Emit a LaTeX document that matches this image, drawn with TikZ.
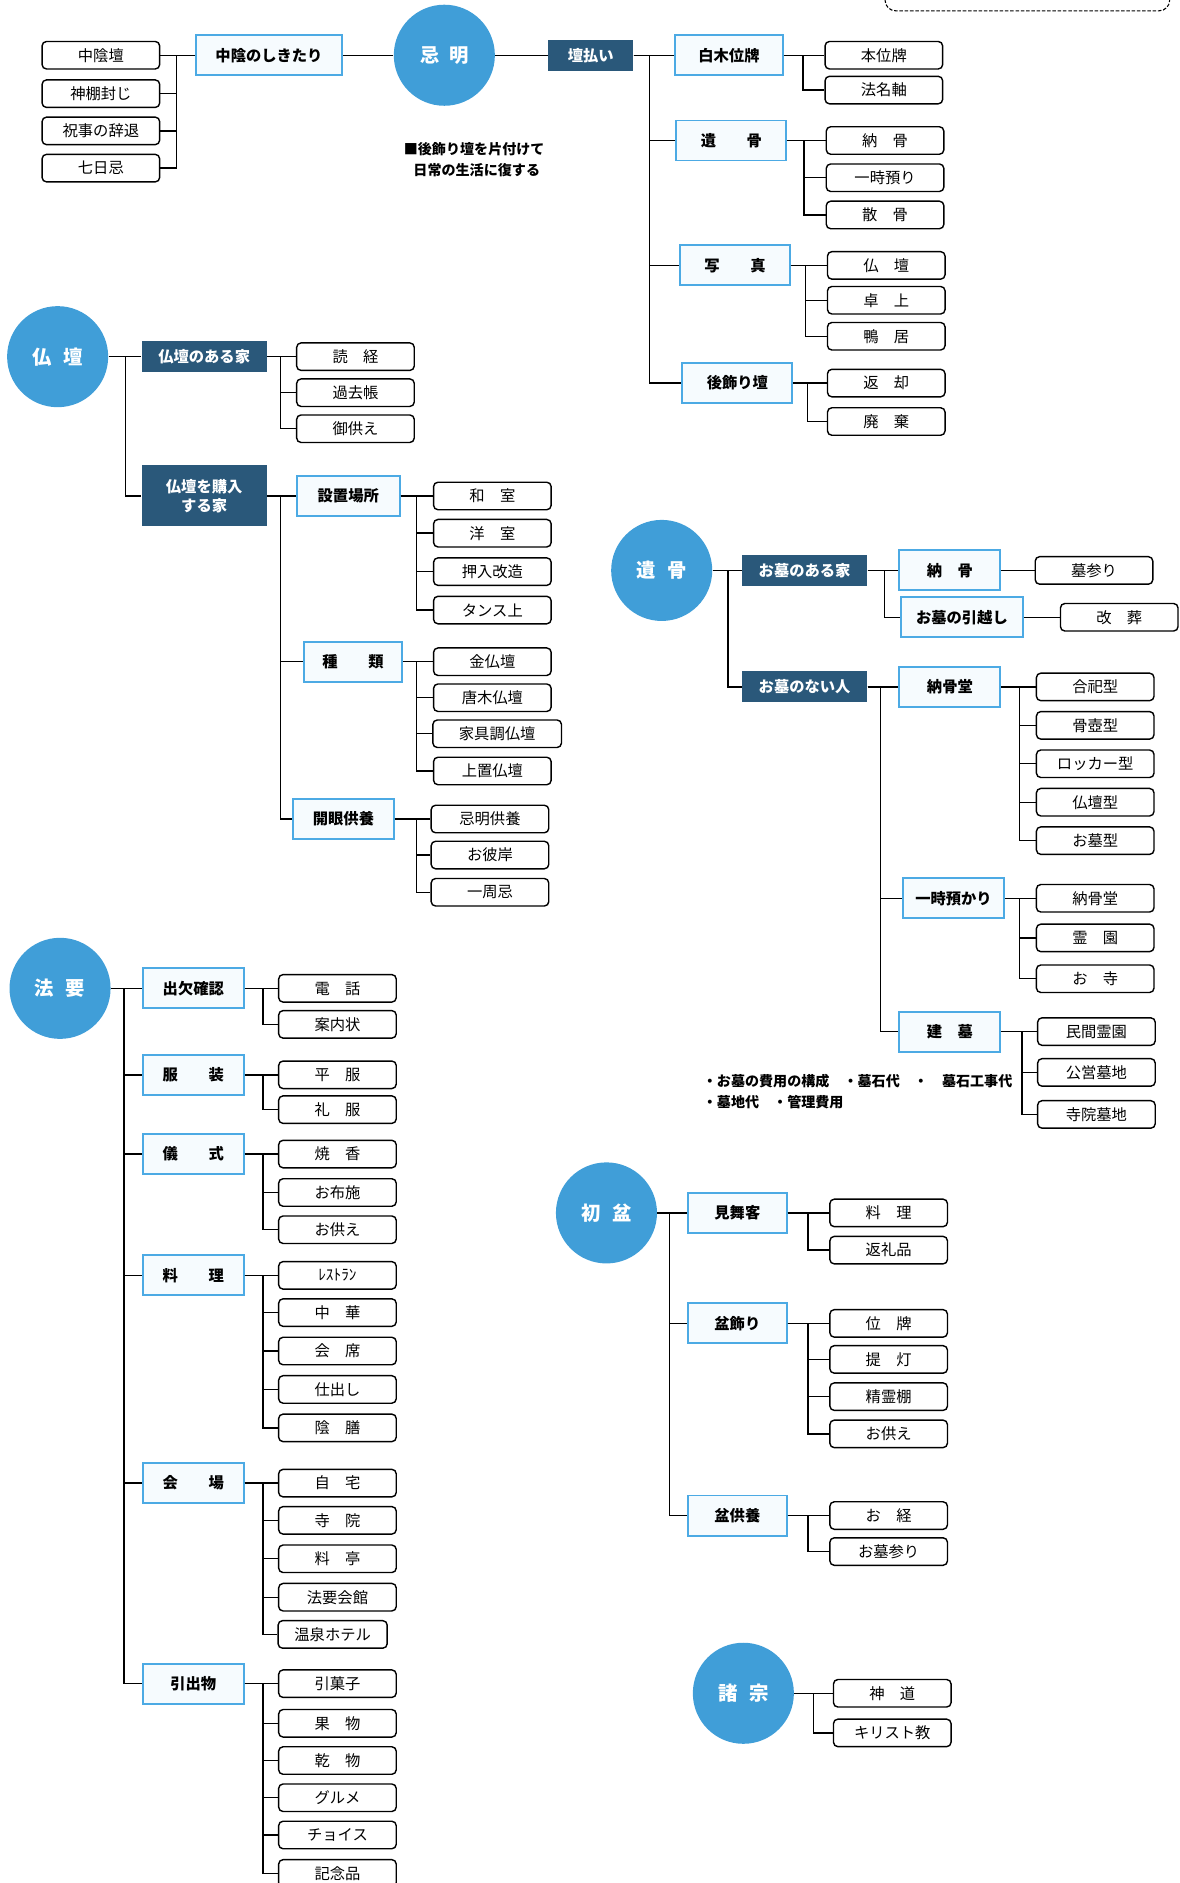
\documentclass[tikz,border=0pt]{standalone}
\usepackage{fontspec}
\usepackage{tikz}
\newfontfamily\jp{Noto Sans CJK JP}
\definecolor{maru}{RGB}{64,158,216}
\definecolor{kon}{RGB}{42,88,122}
\definecolor{waku}{RGB}{76,170,228}
\definecolor{usuao}{RGB}{246,251,254}
\tikzstyle{circ} = [circle, fill=maru, minimum size=2.02cm, inner sep=0pt, text=white,
font=\jp\bfseries\fontsize{11}{13}\selectfont]
\tikzstyle{darkboxes} = [rectangle, fill=kon, minimum width=2.5cm, minimum height=0.62cm, inner
sep=0pt, text=white, align=center, font=\jp\bfseries\fontsize{8.7}{11}\selectfont]
\tikzstyle{blueboxes} = [rectangle, draw=waku, fill=usuao, line width=1.1pt, minimum width=2.02cm,
minimum height=0.8cm, inner sep=0pt, font=\jp\bfseries\fontsize{8.7}{11}\selectfont]
\tikzstyle{leafboxes} = [rectangle, draw=black, rounded corners=2.5pt, line width=0.8pt, minimum
width=2.35cm, minimum height=0.55cm, inner sep=0pt, font=\jp\fontsize{8.7}{11}\selectfont]
\tikzstyle{conn} = [line width=0.8pt, -]
\tikzstyle{notes} = [anchor=west, inner sep=0pt, font=\jp\bfseries\fontsize{8}{10}\selectfont]

\begin{document}
\begin{tikzpicture}[x=0.024cm, y=-0.024cm]
        \useasboundingbox (0,0) rectangle (982,1568);
        \draw[dash pattern=on 2pt off 1pt, line width=0.6pt, rounded corners=6pt] (737,-40) rectangle (974,9);

        % Kimei
        \node[circ] (kimei) at (370,46) {忌\hspace{0.5em}明};
        \node[blueboxes, minimum width=2.93cm] (chuin) at (224,46) {中陰のしきたり};
        \node[leafboxes] (chuin1) at (84,46) {中陰壇};
        \node[leafboxes] (chuin2) at (84,78) {神棚封じ};
        \node[leafboxes] (chuin3) at (84,109) {祝事の辞退};
        \node[leafboxes] (chuin4) at (84,140) {七日忌};
        \node[darkboxes, minimum width=1.7cm] (dan) at (492,46) {壇払い};
        \node[blueboxes, minimum width=2.16cm] (shiraki) at (607,46) {白木位牌};
        \node[blueboxes, minimum width=2.2cm] (kotsu) at (609,117) {遺　　骨};
        \node[blueboxes, minimum width=2.2cm] (shashin) at (612,221) {写　　真};
        \node[blueboxes, minimum width=2.2cm] (atokazari) at (614,319) {後飾り壇};
        \node[leafboxes] (shiraki1) at (736,46) {本位牌};
        \node[leafboxes] (shiraki2) at (736,75) {法名軸};
        \node[leafboxes] (kotsu1) at (737,117) {納　骨};
        \node[leafboxes] (kotsu2) at (737,148) {一時預り};
        \node[leafboxes] (kotsu3) at (737,179) {散　骨};
        \node[leafboxes] (shashin1) at (738,221) {仏　壇};
        \node[leafboxes] (shashin2) at (738,250) {卓　上};
        \node[leafboxes] (shashin3) at (738,280) {鴨　居};
        \node[leafboxes] (atokazari1) at (738,319) {返　却};
        \node[leafboxes] (atokazari2) at (738,351) {廃　棄};
        \node[notes] (memo1) at (336,124) {■後飾り壇を片付けて};
        \node[notes] (memo2) at (344,142) {日常の生活に復する};

        \draw[conn] (kimei) -- (chuin);
        \draw[conn] (chuin) -- (chuin1);
        \draw[conn] (chuin.west) -- ++(-15,0) |- (chuin2.east);
        \draw[conn] (chuin.west) -- ++(-15,0) |- (chuin3.east);
        \draw[conn] (chuin.west) -- ++(-15,0) |- (chuin4.east);
        \draw[conn] (kimei) -- (dan);
        \draw[conn] (dan) -- (shiraki);
        \draw[conn] (dan.east) -- ++(13,0) |- (kotsu.west);
        \draw[conn] (dan.east) -- ++(13,0) |- (shashin.west);
        \draw[conn] (dan.east) -- ++(13,0) |- (atokazari.west);
        \draw[conn] (shiraki) -- (shiraki1);
        \draw[conn] (shiraki.east) -- ++(16,0) |- (shiraki2.west);
        \draw[conn] (kotsu) -- (kotsu1);
        \draw[conn] (kotsu.east) -- ++(14,0) |- (kotsu2.west);
        \draw[conn] (kotsu.east) -- ++(14,0) |- (kotsu3.west);
        \draw[conn] (shashin) -- (shashin1);
        \draw[conn] (shashin.east) -- ++(12,0) |- (shashin2.west);
        \draw[conn] (shashin.east) -- ++(12,0) |- (shashin3.west);
        \draw[conn] (atokazari) -- (atokazari1);
        \draw[conn] (atokazari.east) -- ++(12,0) |- (atokazari2.west);

        % Butsudan
        \node[circ] (butsudan) at (48,297) {仏\hspace{0.6em}壇};
        \node[darkboxes] (aru) at (170,297) {仏壇のある家};
        \node[darkboxes, minimum height=1.22cm] (konyu) at (170,413) {仏壇を購入\\する家};
        \node[leafboxes] (aru1) at (296,297) {読　経};
        \node[leafboxes] (aru2) at (296,327) {過去帳};
        \node[leafboxes] (aru3) at (296,357) {御供え};
        \node[blueboxes, minimum width=2.06cm] (secchi) at (290,413) {設置場所};
        \node[blueboxes, minimum width=1.97cm] (shurui) at (294,551) {種　　類};
        \node[blueboxes] (kaigen) at (286,682) {開眼供養};
        \node[leafboxes] (secchi1) at (410,413) {和　室};
        \node[leafboxes] (secchi2) at (410,444) {洋　室};
        \node[leafboxes] (secchi3) at (410,476) {押入改造};
        \node[leafboxes] (secchi4) at (410,508) {タンス上};
        \node[leafboxes] (shurui1) at (410,551) {金仏壇};
        \node[leafboxes] (shurui2) at (410,581) {唐木仏壇};
        \node[leafboxes, minimum width=2.57cm] (shurui3) at (414,611) {家具調仏壇};
        \node[leafboxes] (shurui4) at (410,642) {上置仏壇};
        \node[leafboxes] (kaigen1) at (408,682) {忌明供養};
        \node[leafboxes] (kaigen2) at (408,712) {お彼岸};
        \node[leafboxes] (kaigen3) at (408,743) {一周忌};

        \draw[conn] (butsudan) -- (aru);
        \draw[conn] (butsudan.east) -- ++(14,0) |- (konyu.west);
        \draw[conn] (aru) -- (aru1);
        \draw[conn] (aru.east) -- ++(11,0) |- (aru2.west);
        \draw[conn] (aru.east) -- ++(11,0) |- (aru3.west);
        \draw[conn] (konyu) -- (secchi);
        \draw[conn] (konyu.east) -- ++(11,0) |- (shurui.west);
        \draw[conn] (konyu.east) -- ++(11,0) |- (kaigen.west);
        \draw[conn] (secchi) -- (secchi1);
        \draw[conn] (secchi.east) -- ++(13,0) |- (secchi2.west);
        \draw[conn] (secchi.east) -- ++(13,0) |- (secchi3.west);
        \draw[conn] (secchi.east) -- ++(13,0) |- (secchi4.west);
        \draw[conn] (shurui) -- (shurui1);
        \draw[conn] (shurui.east) -- ++(11,0) |- (shurui2.west);
        \draw[conn] (shurui.east) -- ++(11,0) |- (shurui3.west);
        \draw[conn] (shurui.east) -- ++(11,0) |- (shurui4.west);
        \draw[conn] (kaigen) -- (kaigen1);
        \draw[conn] (kaigen.east) -- ++(18,0) |- (kaigen2.west);
        \draw[conn] (kaigen.east) -- ++(18,0) |- (kaigen3.west);

        % Ikotsu
        \node[circ] (ikotsu) at (551,475) {遺\hspace{0.6em}骨};
        \node[darkboxes] (haka) at (670,475) {お墓のある家};
        \node[darkboxes] (nashi) at (670,572) {お墓のない人};
        \node[blueboxes] (nokotsu) at (791,475) {納　骨};
        \node[blueboxes, minimum width=2.45cm] (hikkoshi) at (801,514) {お墓の引越し};
        \node[leafboxes] (nokotsu1) at (911,475) {墓参り};
        \node[leafboxes] (hikkoshi1) at (932,514) {改　葬};
        \node[blueboxes] (nokotsudo) at (791,572) {納骨堂};
        \node[blueboxes] (ichiji) at (794,748) {一時預かり};
        \node[blueboxes] (kenbo) at (791,859) {建　墓};
        \node[leafboxes] (nokotsudo1) at (912,572) {合祀型};
        \node[leafboxes] (nokotsudo2) at (912,604) {骨壺型};
        \node[leafboxes] (nokotsudo3) at (912,636) {ロッカー型};
        \node[leafboxes] (nokotsudo4) at (912,668) {仏壇型};
        \node[leafboxes] (nokotsudo5) at (912,700) {お墓型};
        \node[leafboxes] (ichiji1) at (912,748) {納骨堂};
        \node[leafboxes] (ichiji2) at (912,781) {霊　園};
        \node[leafboxes] (ichiji3) at (912,815) {お　寺};
        \node[leafboxes] (kenbo1) at (913,859) {民間霊園};
        \node[leafboxes] (kenbo2) at (913,893) {公営墓地};
        \node[leafboxes] (kenbo3) at (913,928) {寺院墓地};
        \node[notes] (hiyou1) at (585,900) {・お墓の費用の構成　・墓石代　・　墓石工事代};
        \node[notes] (hiyou2) at (585,918) {・墓地代　・管理費用};

        \draw[conn] (ikotsu) -- (haka);
        \draw[conn] (ikotsu.east) -- ++(13,0) |- (nashi.west);
        \draw[conn] (haka) -- (nokotsu);
        \draw[conn] (haka.east) -- ++(14,0) |- (hikkoshi.west);
        \draw[conn] (nokotsu) -- (nokotsu1);
        \draw[conn] (hikkoshi) -- (hikkoshi1);
        \draw[conn] (nashi) -- (nokotsudo);
        \draw[conn] (nashi.east) -- ++(11,0) |- (ichiji.west);
        \draw[conn] (nashi.east) -- ++(11,0) |- (kenbo.west);
        \draw[conn] (nokotsudo) -- (nokotsudo1);
        \draw[conn] (nokotsudo.east) -- ++(15,0) |- (nokotsudo2.west);
        \draw[conn] (nokotsudo.east) -- ++(15,0) |- (nokotsudo3.west);
        \draw[conn] (nokotsudo.east) -- ++(15,0) |- (nokotsudo4.west);
        \draw[conn] (nokotsudo.east) -- ++(15,0) |- (nokotsudo5.west);
        \draw[conn] (ichiji) -- (ichiji1);
        \draw[conn] (ichiji.east) -- ++(12,0) |- (ichiji2.west);
        \draw[conn] (ichiji.east) -- ++(12,0) |- (ichiji3.west);
        \draw[conn] (kenbo) -- (kenbo1);
        \draw[conn] (kenbo.east) -- ++(17,0) |- (kenbo2.west);
        \draw[conn] (kenbo.east) -- ++(17,0) |- (kenbo3.west);

        % Houyou
        \node[circ] (houyou) at (50,823) {法\hspace{0.6em}要};
        \node[blueboxes] (shukketsu) at (161,823) {出欠確認};
        \node[blueboxes] (fukusou) at (161,895) {服　　装};
        \node[blueboxes] (gishiki) at (161,961) {儀　　式};
        \node[blueboxes] (ryouri) at (161,1062) {料　　理};
        \node[blueboxes] (kaijou) at (161,1235) {会　　場};
        \node[blueboxes] (hikide) at (161,1402) {引出物};
        \node[leafboxes] (shukketsu1) at (281,823) {電　話};
        \node[leafboxes] (shukketsu2) at (281,853) {案内状};
        \node[leafboxes] (fukusou1) at (281,895) {平　服};
        \node[leafboxes] (fukusou2) at (281,924) {礼　服};
        \node[leafboxes] (gishiki1) at (281,961) {焼　香};
        \node[leafboxes] (gishiki2) at (281,993) {お布施};
        \node[leafboxes] (gishiki3) at (281,1024) {お供え};
        \node[leafboxes] (ryouri1) at (281,1062) {ﾚｽﾄﾗﾝ};
        \node[leafboxes] (ryouri2) at (281,1093) {中　華};
        \node[leafboxes] (ryouri3) at (281,1125) {会　席};
        \node[leafboxes] (ryouri4) at (281,1157) {仕出し};
        \node[leafboxes] (ryouri5) at (281,1189) {陰　膳};
        \node[leafboxes] (kaijou1) at (281,1235) {自　宅};
        \node[leafboxes] (kaijou2) at (281,1266) {寺　院};
        \node[leafboxes] (kaijou3) at (281,1298) {料　亭};
        \node[leafboxes] (kaijou4) at (281,1330) {法要会館};
        \node[leafboxes, minimum width=2.18cm] (kaijou5) at (277,1361) {温泉ホテル};
        \node[leafboxes] (hikide1) at (281,1402) {引菓子};
        \node[leafboxes] (hikide2) at (281,1435) {果　物};
        \node[leafboxes] (hikide3) at (281,1466) {乾　物};
        \node[leafboxes] (hikide4) at (281,1497) {グルメ};
        \node[leafboxes] (hikide5) at (281,1528) {チョイス};
        \node[leafboxes] (hikide6) at (281,1560) {記念品};

        \draw[conn] (houyou) -- (shukketsu);
        \draw[conn] (houyou.east) -- ++(11,0) |- (fukusou.west);
        \draw[conn] (houyou.east) -- ++(11,0) |- (gishiki.west);
        \draw[conn] (houyou.east) -- ++(11,0) |- (ryouri.west);
        \draw[conn] (houyou.east) -- ++(11,0) |- (kaijou.west);
        \draw[conn] (houyou.east) -- ++(11,0) |- (hikide.west);
        \draw[conn] (shukketsu) -- (shukketsu1);
        \draw[conn] (shukketsu.east) -- ++(15,0) |- (shukketsu2.west);
        \draw[conn] (fukusou) -- (fukusou1);
        \draw[conn] (fukusou.east) -- ++(15,0) |- (fukusou2.west);
        \draw[conn] (gishiki) -- (gishiki1);
        \draw[conn] (gishiki.east) -- ++(15,0) |- (gishiki2.west);
        \draw[conn] (gishiki.east) -- ++(15,0) |- (gishiki3.west);
        \draw[conn] (ryouri) -- (ryouri1);
        \draw[conn] (ryouri.east) -- ++(15,0) |- (ryouri2.west);
        \draw[conn] (ryouri.east) -- ++(15,0) |- (ryouri3.west);
        \draw[conn] (ryouri.east) -- ++(15,0) |- (ryouri4.west);
        \draw[conn] (ryouri.east) -- ++(15,0) |- (ryouri5.west);
        \draw[conn] (kaijou) -- (kaijou1);
        \draw[conn] (kaijou.east) -- ++(15,0) |- (kaijou2.west);
        \draw[conn] (kaijou.east) -- ++(15,0) |- (kaijou3.west);
        \draw[conn] (kaijou.east) -- ++(15,0) |- (kaijou4.west);
        \draw[conn] (kaijou.east) -- ++(15,0) |- (kaijou5.west);
        \draw[conn] (hikide) -- (hikide1);
        \draw[conn] (hikide.east) -- ++(15,0) |- (hikide2.west);
        \draw[conn] (hikide.east) -- ++(15,0) |- (hikide3.west);
        \draw[conn] (hikide.east) -- ++(15,0) |- (hikide4.west);
        \draw[conn] (hikide.east) -- ++(15,0) |- (hikide5.west);
        \draw[conn] (hikide.east) -- ++(15,0) |- (hikide6.west);

        % Hatsubon
        \node[circ] (hatsubon) at (505,1010) {初\hspace{0.6em}盆};
        \node[blueboxes, minimum width=1.97cm] (mimai) at (614,1010) {見舞客};
        \node[blueboxes, minimum width=1.97cm] (bonkazari) at (614,1102) {盆飾り};
        \node[blueboxes, minimum width=1.97cm] (bonkuyou) at (614,1262) {盆供養};
        \node[leafboxes] (mimai1) at (740,1010) {料　理};
        \node[leafboxes] (mimai2) at (740,1041) {返礼品};
        \node[leafboxes] (bonkazari1) at (740,1102) {位　牌};
        \node[leafboxes] (bonkazari2) at (740,1132) {提　灯};
        \node[leafboxes] (bonkazari3) at (740,1163) {精霊棚};
        \node[leafboxes] (bonkazari4) at (740,1194) {お供え};
        \node[leafboxes] (bonkuyou1) at (740,1262) {お　経};
        \node[leafboxes] (bonkuyou2) at (740,1292) {お墓参り};

        \draw[conn] (hatsubon) -- (mimai);
        \draw[conn] (hatsubon.east) -- ++(10,0) |- (bonkazari.west);
        \draw[conn] (hatsubon.east) -- ++(10,0) |- (bonkuyou.west);
        \draw[conn] (mimai) -- (mimai1);
        \draw[conn] (mimai.east) -- ++(17,0) |- (mimai2.west);
        \draw[conn] (bonkazari) -- (bonkazari1);
        \draw[conn] (bonkazari.east) -- ++(17,0) |- (bonkazari2.west);
        \draw[conn] (bonkazari.east) -- ++(17,0) |- (bonkazari3.west);
        \draw[conn] (bonkazari.east) -- ++(17,0) |- (bonkazari4.west);
        \draw[conn] (bonkuyou) -- (bonkuyou1);
        \draw[conn] (bonkuyou.east) -- ++(17,0) |- (bonkuyou2.west);

        % Shoshu
        \node[circ] (shoshu) at (619,1410) {諸\hspace{0.6em}宗};
        \node[leafboxes] (shoshu1) at (743,1410) {神　道};
        \node[leafboxes] (shoshu2) at (743,1443) {キリスト教};

        \draw[conn] (shoshu) -- (shoshu1);
        \draw[conn] (shoshu.east) -- ++(16,0) |- (shoshu2.west);

    \end{tikzpicture}
\end{document}
